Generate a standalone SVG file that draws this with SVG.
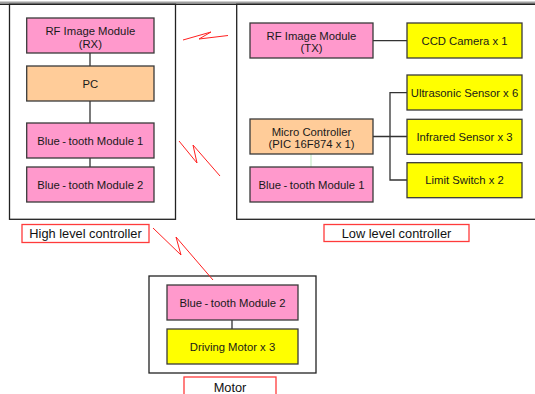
<svg xmlns="http://www.w3.org/2000/svg" width="535" height="394" viewBox="0 0 535 394">
  <style>
    .box { stroke: #3a3a3a; stroke-width: 1.3; }
    .pink { fill: #ff99cc; }
    .peach { fill: #ffcc99; }
    .yellow { fill: #ffff00; }
    .frame { fill: #ffffff; stroke: #222222; stroke-width: 1.3; }
    .tag { fill: #ffffff; stroke: #ff3b3b; stroke-width: 1.3; }
    .t { font-family: "Liberation Sans", Arial, sans-serif; font-size: 11.3px; fill: #1a1a1a; text-anchor: middle; }
    .lt { font-family: "Liberation Sans", Arial, sans-serif; font-size: 12.8px; fill: #111111; text-anchor: middle; }
    .wire { stroke: #333333; stroke-width: 1.3; fill: none; }
    .wire-light { stroke: #c8ecc8; stroke-width: 1.2; fill: none; }
    .bolt { stroke: #ff2020; stroke-width: 1; fill: none; }
  </style>

  <!-- page header rule -->
  <line x1="0" y1="2.3" x2="535" y2="2.3" stroke="#a0a0a0" stroke-width="1.4"/>

  <!-- enclosures -->
  <g id="high-level-frame">
    <rect class="frame" x="9.5" y="4.3" width="166" height="215"/>
  </g>
  <g id="low-level-frame">
    <rect class="frame" x="236.7" y="4.3" width="310" height="215"/>
  </g>
  <g id="motor-frame">
    <rect class="frame" x="149" y="276" width="167" height="97"/>
  </g>
  <line x1="0" y1="4.3" x2="535" y2="4.3" stroke="#222222" stroke-width="1.6"/>

  <!-- connectors -->
  <g id="connectors">
    <line class="wire" x1="90" y1="53" x2="90" y2="66"/>
    <line class="wire" x1="90" y1="101" x2="90" y2="123"/>
    <line class="wire" x1="90" y1="158" x2="90" y2="167"/>
    <line class="wire" x1="373" y1="40.7" x2="407" y2="40.7"/>
    <line class="wire" x1="373" y1="136.5" x2="407" y2="136.5"/>
    <polyline class="wire" points="407,92.7 390,92.7 390,180 407,180"/>
    <line class="wire-light" x1="311" y1="154" x2="311" y2="167"/>
    <line class="wire" x1="232" y1="320" x2="232" y2="329"/>
    <!-- wireless links -->
    <polyline class="bolt" points="183,40 211,32 199,39 228,35.5"/>
    <polyline class="bolt" points="179,141 197,163 193,145 220,176"/>
    <polyline class="bolt" points="153,228 181,255 176,237 213,280"/>
  </g>

  <!-- high level controller -->
  <g id="rf-rx">
    <rect class="box pink" x="26.7" y="18" width="127.3" height="35"/>
    <text class="t" x="90.3" y="34.8">RF Image Module</text>
    <text class="t" x="90.3" y="47.6">(RX)</text>
  </g>
  <g id="pc">
    <rect class="box peach" x="26.7" y="66" width="127.3" height="35"/>
    <text class="t" x="90.3" y="87.6">PC</text>
  </g>
  <g id="bt1-high">
    <rect class="box pink" x="26.7" y="123" width="127.3" height="35"/>
    <text class="t" x="90.3" y="144.6">Blue<tspan dx="2.5">-</tspan><tspan dx="2.5">tooth Module 1</tspan></text>
  </g>
  <g id="bt2-high">
    <rect class="box pink" x="26.7" y="167" width="127.3" height="35"/>
    <text class="t" x="90.3" y="188.6">Blue<tspan dx="2.5">-</tspan><tspan dx="2.5">tooth Module 2</tspan></text>
  </g>
  <g id="high-level-label">
    <rect class="tag" x="22" y="224.5" width="127" height="18"/>
    <text class="lt" x="85.5" y="238.3">High level controller</text>
  </g>

  <!-- low level controller -->
  <g id="rf-tx">
    <rect class="box pink" x="250" y="23" width="123" height="35"/>
    <text class="t" x="311.5" y="39.6">RF Image Module</text>
    <text class="t" x="311.5" y="52.3">(TX)</text>
  </g>
  <g id="ccd">
    <rect class="box yellow" x="407" y="23" width="115" height="35"/>
    <text class="t" x="464.5" y="45">CCD Camera x 1</text>
  </g>
  <g id="ultrasonic">
    <rect class="box yellow" x="407" y="75" width="115" height="35"/>
    <text class="t" x="464.5" y="96.6">Ultrasonic Sensor x 6</text>
  </g>
  <g id="micro">
    <rect class="box peach" x="250" y="119" width="123" height="35"/>
    <text class="t" x="311.5" y="135.6">Micro Controller</text>
    <text class="t" x="311.5" y="148.3">(PIC 16F874 x 1)</text>
  </g>
  <g id="infrared">
    <rect class="box yellow" x="407" y="119.3" width="115" height="35"/>
    <text class="t" x="464.5" y="140.8">Infrared Sensor x 3</text>
  </g>
  <g id="bt1-low">
    <rect class="box pink" x="250" y="167" width="123" height="35"/>
    <text class="t" x="311.5" y="188.6">Blue<tspan dx="2.5">-</tspan><tspan dx="2.5">tooth Module 1</tspan></text>
  </g>
  <g id="limit">
    <rect class="box yellow" x="407" y="162.7" width="115" height="35"/>
    <text class="t" x="464.5" y="184.3">Limit Switch x 2</text>
  </g>
  <g id="low-level-label">
    <rect class="tag" x="324" y="224.5" width="145" height="17"/>
    <text class="lt" x="396.5" y="238">Low level controller</text>
  </g>

  <!-- motor -->
  <g id="bt2-motor">
    <rect class="box pink" x="167" y="285" width="131" height="35"/>
    <text class="t" x="232.5" y="306.6">Blue<tspan dx="2.5">-</tspan><tspan dx="2.5">tooth Module 2</tspan></text>
  </g>
  <g id="driving-motor">
    <rect class="box yellow" x="167" y="329" width="131" height="35"/>
    <text class="t" x="232.5" y="350.6">Driving Motor x 3</text>
  </g>
  <g id="motor-label">
    <rect class="tag" x="184" y="377" width="92" height="22"/>
    <text class="lt" x="230" y="391.5">Motor</text>
  </g>
</svg>
